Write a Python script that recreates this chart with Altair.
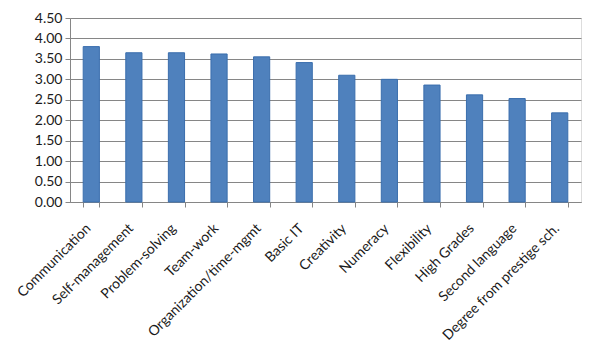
import altair as alt
import pandas as pd

categories = ["Communication", "Self-management", "Problem-solving", "Team-work",
              "Organization/time-mgmt", "Basic IT", "Creativity", "Numeracy",
              "Flexibility", "High Grades", "Second language", "Degree from prestige sch."]
values = [3.80, 3.65, 3.65, 3.62, 3.55, 3.41, 3.10, 3.00, 2.86, 2.62, 2.53, 2.18]

df = pd.DataFrame({"skill": categories, "score": values})

font = "Lato"

bars = alt.Chart(df).mark_bar(
    color="#4F81BD", stroke="#3A6EAD", strokeWidth=1
).encode(
    x=alt.X("skill:N", sort=categories, title=None,
            scale=alt.Scale(paddingInner=0.62, paddingOuter=0.31),
            axis=alt.Axis(labelAngle=-45, labelFontSize=14, labelFont=font,
                          labelColor="#1a1a1a", domainColor="#868686",
                          tickColor="#868686", tickSize=5, tickBand="extent",
                          labelPadding=14, labelOffset=-8, labelLimit=300)),
    y=alt.Y("score:Q", title=None,
            scale=alt.Scale(domain=[0, 4.5], nice=False),
            axis=alt.Axis(values=[i * 0.5 for i in range(10)], format=".2f",
                          labelFontSize=14, labelFont=font, labelColor="#1a1a1a",
                          gridColor="#868686", gridWidth=1, domainColor="#868686",
                          tickColor="#868686", tickSize=5, labelPadding=3))
)

chart = bars.properties(
    width=511, height=184,
    padding={"left": 62, "top": 10, "right": 10, "bottom": 150},
    autosize=alt.AutoSizeParams(type="none"),
).configure_view(stroke=None).configure(background="white")

chart.save("out.html", embed_options={"renderer": "svg", "actions": False})
